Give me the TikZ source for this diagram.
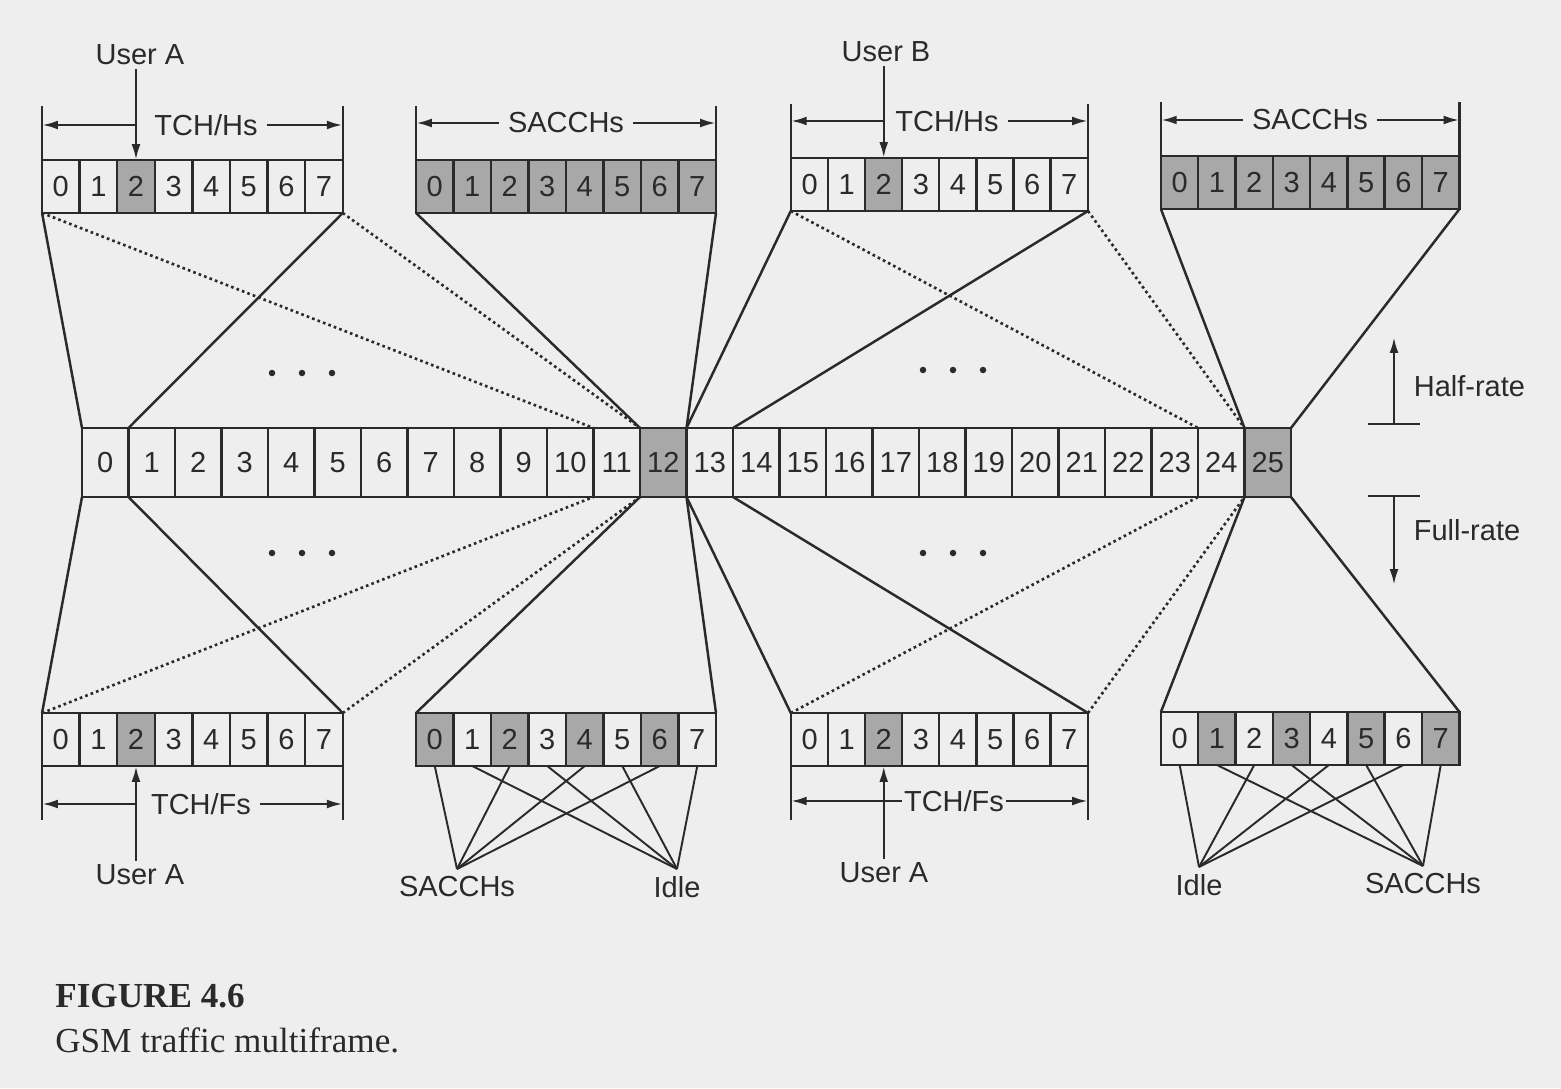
\documentclass[tikz,border=0pt]{standalone}
\usepackage{fontspec}
\setmainfont{Liberation Sans}
\newfontfamily\capfont{Liberation Serif}
\usetikzlibrary{arrows.meta}

\definecolor{paper}{HTML}{EEEEEE}
\definecolor{ink}{HTML}{2A2A2A}
\definecolor{shade}{HTML}{A8A8A8}
\newcommand{\lblfont}{\fontsize{16.5}{19}\selectfont}

\tikzset{
  slot/.style={draw=ink, fill=paper, line width=1.4pt, minimum width=0.75cm, minimum height=1.06cm,
               inner sep=0pt, outer sep=0pt, text=ink, font=\lblfont},
  dark/.style={slot, fill=shade},
  mslot/.style={slot, minimum width=0.93cm, minimum height=1.38cm},
  mdark/.style={mslot, fill=shade},
  lab/.style={text=ink, font=\lblfont, inner sep=2pt},
  dim/.style={lab, inner xsep=5pt},
  link/.style={draw=ink, line width=1.4pt},
  dots/.style={link, line width=1.5pt, dash pattern=on 1.5pt off 1.8pt},
  tip/.style={-{Latex[length=9pt,width=5pt]}},
}

\begin{document}
\begin{tikzpicture}[x=0.02cm, y=-0.02cm]
    \fill[paper] (0,0) rectangle (1561,1088);
    \useasboundingbox (0,0) rectangle (1561,1088);
    % the 26-frame multiframe
    \foreach \i in {0,...,25}{
        \ifnum\i=12 \def\st{mdark}\else\ifnum\i=25 \def\st{mdark}\else\def\st{mslot}\fi\fi
        \node[\st] (m\i) at ({82+46.5*(\i+0.5)},462.5) {\i};
    }
    % half-rate frames (top)
    \foreach \i in {0,...,7}{
        \ifnum\i=2 \def\st{dark}\else\def\st{slot}\fi
        \node[\st] (hA\i) at ({42+37.6*(\i+0.5)},186.5) {\i};
        \node[dark] (hS\i) at ({416+37.5*(\i+0.5)},186.5) {\i};
        \node[\st] (hB\i) at ({791+37.1*(\i+0.5)},184.5) {\i};
        \node[dark] (hT\i) at ({1161+37.3*(\i+0.5)},182.5) {\i};
    }
    % full-rate frames (bottom)
    \foreach \i in {0,...,7}{
        \ifnum\i=2 \def\st{dark}\else\def\st{slot}\fi
        \node[\st] (fA\i) at ({42+37.6*(\i+0.5)},739.5) {\i};
        \node[\st] (fB\i) at ({791+37.1*(\i+0.5)},739.5) {\i};
        \ifodd\i \def\st{slot}\else\def\st{dark}\fi
        \node[\st] (fS\i) at ({416+37.5*(\i+0.5)},739.5) {\i};
        \ifodd\i \def\st{dark}\else\def\st{slot}\fi
        \node[\st] (fT\i) at ({1161+37.3*(\i+0.5)},738.5) {\i};
    }

    % top dimension lines and users
    \foreach \b in {hA, hS, hB, hT}{
        \draw[link] (\b0.north west) -- ++(0,-54);
        \draw[link] (\b7.north east) -- ++(0,-54);
    }
    \node[dim] (dA) at (206,125) {TCH/Hs};
    \draw[link, tip] (dA.west -| hA2.north) -- (dA.west -| hA0.north west);
    \draw[link, tip] (dA.east) -- (dA.east -| hA7.north east);
    \node[dim] (dS) at (566,123) {SACCHs};
    \draw[link, tip] (dS.west) -- (dS.west -| hS0.north west);
    \draw[link, tip] (dS.east) -- (dS.east -| hS7.north east);
    \node[dim] (dB) at (947,121) {TCH/Hs};
    \draw[link, tip] (dB.west -| hB2.north) -- (dB.west -| hB0.north west);
    \draw[link, tip] (dB.east) -- (dB.east -| hB7.north east);
    \node[dim] (dT) at (1310,120) {SACCHs};
    \draw[link, tip] (dT.west) -- (dT.west -| hT0.north west);
    \draw[link, tip] (dT.east) -- (dT.east -| hT7.north east);
    \node[lab] (uA) at (140,55) {User A};
    \draw[link, tip] (uA.south -| hA2.north) -- (hA2.north);
    \node[lab] (uB) at (886,52) {User B};
    \draw[link, tip] (uB.south -| hB2.north) -- (hB2.north);

    % bottom dimension lines and users
    \foreach \b in {fA, fB}{
        \draw[link] (\b0.south west) -- ++(0,54);
        \draw[link] (\b7.south east) -- ++(0,54);
    }
    \node[dim] (eA) at (201,804) {TCH/Fs};
    \draw[link, tip] (eA.west -| fA2.south) -- (eA.west -| fA0.south west);
    \draw[link, tip] (eA.east) -- (eA.east -| fA7.south east);
    \node[dim, inner xsep=1pt] (eB) at (954,801) {TCH/Fs};
    \draw[link, tip] (eB.west) -- (eB.west -| fB0.south west);
    \draw[link, tip] (eB.east) -- (eB.east -| fB7.south east);
    \node[lab] (vA) at (140,875) {User A};
    \draw[link, tip] (vA.north -| fA2.south) -- (fA2.south);
    \node[lab] (vB) at (884,873) {User A};
    \draw[link, tip] (vB.north -| fB2.south) -- (fB2.south);

    % half-rate mapping
    \draw[link] (hA0.south west) -- (m0.north west);
    \draw[link] (hA7.south east) -- (m0.north east);
    \draw[dots] (hA0.south west) -- (m11.north west);
    \draw[dots] (hA7.south east) -- (m11.north east);
    \draw[link] (hS0.south west) -- (m12.north west);
    \draw[link] (hS7.south east) -- (m12.north east);
    \draw[link] (hB0.south west) -- (m13.north west);
    \draw[link] (hB7.south east) -- (m13.north east);
    \draw[dots] (hB0.south west) -- (m24.north west);
    \draw[dots] (hB7.south east) -- (m24.north east);
    \draw[link] (hT0.south west) -- (m25.north west);
    \draw[link] (hT7.south east) -- (m25.north east);
    % full-rate mapping
    \draw[link] (fA0.north west) -- (m0.south west);
    \draw[link] (fA7.north east) -- (m0.south east);
    \draw[dots] (fA0.north west) -- (m11.south west);
    \draw[dots] (fA7.north east) -- (m11.south east);
    \draw[link] (fS0.north west) -- (m12.south west);
    \draw[link] (fS7.north east) -- (m12.south east);
    \draw[link] (fB0.north west) -- (m13.south west);
    \draw[link] (fB7.north east) -- (m13.south east);
    \draw[dots] (fB0.north west) -- (m24.south west);
    \draw[dots] (fB7.north east) -- (m24.south east);
    \draw[link] (fT0.north west) -- (m25.south west);
    \draw[link] (fT7.north east) -- (m25.south east);

    % SACCH / idle fans
    \node[lab, anchor=north, inner ysep=4pt] (sa1) at (457,869) {SACCHs};
    \node[lab, anchor=north, inner ysep=4pt] (id1) at (677,869) {Idle};
    \node[lab, anchor=north, inner ysep=4pt] (id2) at (1199,867) {Idle};
    \node[lab, anchor=north, inner ysep=4pt] (sa2) at (1423,866) {SACCHs};
    \foreach \i in {0,2,4,6}{
        \draw[link, line width=1.1pt] (fS\i.south) -- (sa1.north);
        \draw[link, line width=1.1pt] (fT\i.south) -- (id2.north);
    }
    \foreach \i in {1,3,5,7}{
        \draw[link, line width=1.1pt] (fS\i.south) -- (id1.north);
        \draw[link, line width=1.1pt] (fT\i.south) -- (sa2.north);
    }

    % ellipses
    \foreach \x/\y in {272/373, 923/370, 272/553, 923/553}
        \foreach \d in {0,1,2}
            \fill[ink] ({\x+30*\d},\y) circle (0.065cm);

    % half-rate / full-rate markers
    \coordinate (hr) at (1394,424);
    \coordinate (fr) at (1394,496);
    \draw[link] ([xshift=-0.52cm]hr) -- ([xshift=0.52cm]hr);
    \draw[link, tip] (hr) -- ++(0,-87);
    \node[lab, anchor=west] (hrl) at (1410,386) {Half-rate};
    \draw[link] ([xshift=-0.52cm]fr) -- ([xshift=0.52cm]fr);
    \draw[link, tip] (fr) -- ++(0,89);
    \node[lab, anchor=west] (frl) at (1410,530) {Full-rate};

    % caption
    \node[anchor=base west, inner sep=0pt, text=ink, font=\capfont\fontsize{20}{24}\selectfont\bfseries] (fig) at (55,1007) {FIGURE 4.6};
    \node[anchor=base west, inner sep=0pt, text=ink, font=\capfont\fontsize{20}{24}\selectfont] (cap) at (55,1052) {GSM traffic multiframe.};
\end{tikzpicture}
\end{document}
